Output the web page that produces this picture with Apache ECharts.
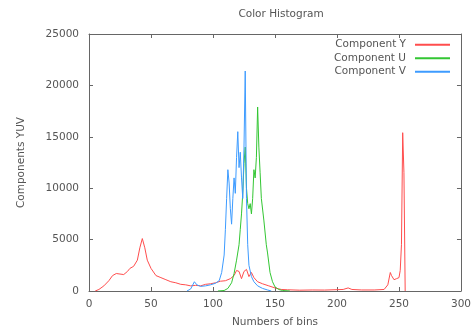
<!DOCTYPE html>
<html>
<head>
<meta charset="utf-8">
<script src="https://cdn.jsdelivr.net/npm/echarts@6/dist/echarts.min.js"></script>
<style>
  html, body { margin: 0; padding: 0; background: #fff; }
  #chart { width: 474px; height: 333px; }
</style>
</head>
<body>
<div id="chart"></div>
<script>
// histogram values: bin index -> pixel count
const yBins = [5, 8, 12, 16, 19, 22, 25, 28, 31, 33, 36, 39, 41, 43, 45, 47, 50, 54, 58, 62, 66, 70, 74, 78, 82, 86, 90, 94, 98, 102, 106, 110, 114, 117, 119, 121, 123, 125, 127, 129, 131, 133, 136, 140, 145, 150, 155, 160, 170, 180, 190, 200, 205, 209, 212, 220, 230, 238, 241, 243, 244, 246, 248, 250, 251, 252, 253, 254, 255];
const yVals = [0, 150, 500, 1000, 1500, 1700, 1650, 1600, 1900, 2200, 2400, 3000, 4200, 5100, 4200, 3000, 2200, 1500, 1300, 1100, 900, 800, 650, 600, 500, 550, 500, 650, 700, 800, 950, 1000, 1200, 1500, 2000, 1900, 1200, 1900, 2100, 1400, 1800, 1300, 900, 700, 500, 300, 150, 120, 80, 100, 90, 130, 150, 300, 150, 100, 100, 150, 600, 1800, 1500, 1100, 1200, 1300, 2000, 4500, 15400, 11500, 0];

const uBins = [104, 109, 112, 115, 117, 119, 121, 122, 123, 124, 125, 126, 127, 128, 129, 130, 131, 132, 133, 134, 135, 136, 137, 138, 139, 141, 143, 144, 146, 148, 150, 153, 156, 162];
const uVals = [0, 50, 250, 800, 1700, 3000, 4500, 6000, 7500, 9500, 12400, 14000, 10000, 8500, 8000, 8500, 7500, 9000, 11800, 11000, 13000, 17900, 14000, 11500, 9000, 6900, 4500, 3700, 1800, 900, 400, 150, 50, 0];

const vBins = [79, 82, 85, 87, 90, 94, 98, 102, 105, 107, 109, 110, 111, 112, 113, 114, 115, 116, 117, 118, 119, 120, 121, 122, 123, 124, 125, 126, 127, 128, 129, 131, 133, 136, 140, 144, 147];
const vVals = [0, 200, 900, 600, 450, 500, 600, 750, 1000, 1800, 3500, 6000, 9000, 11800, 10500, 8000, 6500, 9000, 11000, 9500, 13000, 15500, 12000, 13500, 11000, 9000, 14000, 21400, 9000, 4500, 2500, 1400, 900, 500, 250, 100, 0];

const seriesNames = ["Component Y", "Component U", "Component V"];
const seriesColors = ["#ff4d4d", "#33c633", "#3d9bff"];

const zip = (xs, ys) => xs.map((x, i) => [x, ys[i]]);
const allData = [zip(yBins, yVals), zip(uBins, uVals), zip(vBins, vVals)];

const chart = echarts.init(document.getElementById("chart"));
const font = "DejaVu Sans";
const textColor = "#555";
const axisColor = "#666";

const tickBase = {
  axisLine: { show: true, onZero: false, lineStyle: { color: axisColor, width: 1 } },
  axisTick: { show: true, inside: true, length: 4, lineStyle: { color: axisColor } },
  splitLine: { show: false },
};

const option = {
  animation: false,
  textStyle: { fontFamily: font },
  title: {
    text: "Color Histogram",
    left: 276,
    top: 4,
    textAlign: "center",
    textStyle: { fontSize: 10.5, fontWeight: "normal", color: textColor, fontFamily: font },
  },
  legend: {
    orient: "vertical",
    right: 19,
    top: 33,
    align: "right",
    itemGap: 0,
    itemWidth: 35,
    itemHeight: 13,
    data: seriesNames.map((n) => ({ name: n, icon: "path://M0,6L35,6L35,8L0,8Z" })),
    textStyle: { fontSize: 10.5, color: textColor, fontFamily: font, padding: [0, 4, 0, 0], lineHeight: 13.5 },
  },
  grid: { left: 89, right: 11, top: 34, bottom: 42 },
  xAxis: [
    {
      type: "value",
      min: 0,
      max: 300,
      interval: 50,
      name: "Numbers of bins",
      nameLocation: "middle",
      nameGap: 26,
      nameTextStyle: { fontSize: 10.5, color: textColor, fontFamily: font },
      axisLabel: { fontSize: 10.5, color: textColor, margin: 8, fontFamily: font },
      ...tickBase,
    },
    {
      type: "value",
      position: "top",
      min: 0,
      max: 300,
      interval: 50,
      axisLabel: { show: false },
      ...tickBase,
    },
  ],
  yAxis: [
    {
      type: "value",
      min: 0,
      max: 25000,
      interval: 5000,
      name: "Components YUV",
      nameLocation: "middle",
      nameGap: 62,
      nameTextStyle: { fontSize: 10.5, color: textColor, fontFamily: font },
      axisLabel: { fontSize: 10.5, color: textColor, margin: 10, fontFamily: font, formatter: (v) => String(v) },
      ...tickBase,
    },
    {
      type: "value",
      position: "right",
      min: 0,
      max: 25000,
      interval: 5000,
      axisLabel: { show: false },
      ...tickBase,
    },
  ],
  series: seriesNames.map((name, i) => ({
    name: name,
    type: "line",
    data: allData[i],
    symbol: "none",
    color: seriesColors[i],
    lineStyle: { width: 1, color: seriesColors[i] },
  })),
};

chart.setOption(option);
</script>
</body>
</html>
